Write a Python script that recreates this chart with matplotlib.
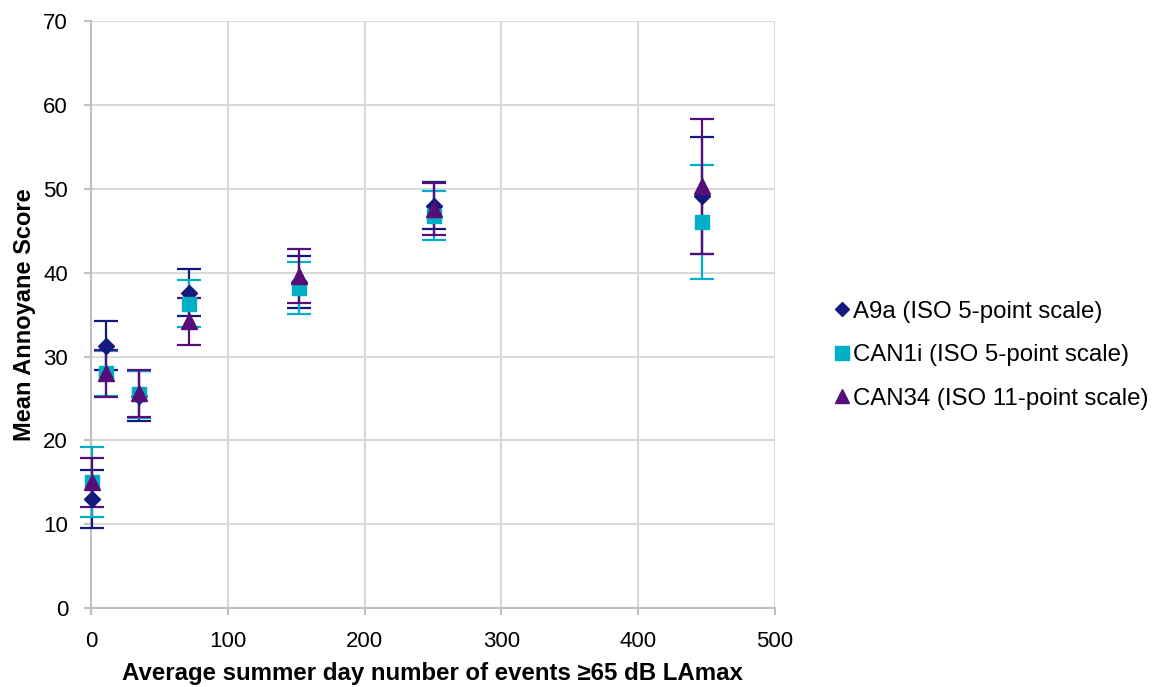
import matplotlib.pyplot as plt
from matplotlib.lines import Line2D

plt.rcParams['font.family'] = ['Liberation Sans', 'DejaVu Sans']

# data
x_events = [1, 11, 35, 72, 152, 251, 447]

a9a_mean = [13.0, 31.3, 25.3, 37.6, 38.9, 48.0, 49.2]
a9a_err = [3.5, 2.9, 3.0, 2.8, 3.1, 2.8, 7.0]

can1i_mean = [15.0, 28.0, 25.5, 36.3, 38.2, 46.8, 46.1]
can1i_err = [4.2, 2.7, 2.8, 2.8, 3.1, 2.9, 6.8]

can34_mean = [15.0, 28.0, 25.6, 34.2, 39.6, 47.6, 50.3]
can34_err = [2.9, 2.8, 2.8, 2.8, 3.2, 3.1, 8.1]

labels = ['A9a (ISO 5-point scale)', 'CAN1i (ISO 5-point scale)',
          'CAN34 (ISO 11-point scale)']

fig = plt.figure(figsize=(11.58, 6.87), dpi=100)
ax = fig.add_axes([0.0786, 0.115, 0.5905, 0.854])

series = [
    (a9a_mean, a9a_err, 'D', 8, '#141a7c'),
    (can1i_mean, can1i_err, 's', 10, '#00afc6'),
    (can34_mean, can34_err, '^', 11, '#560f78'),
]
handles = []
for (mean, err, marker, ms, color), label in zip(series, labels):
    cont = ax.errorbar(x_events, mean, yerr=err, fmt=marker, ms=ms, color=color,
                       ecolor=color, elinewidth=1.6, capsize=8.5, capthick=1.6,
                       zorder=3)
    for art in cont.get_children():
        art.set_clip_on(False)
    handles.append(Line2D([], [], marker=marker, linestyle='none', color=color,
                          ms=ms * 0.95, label=label))

ax.set_xlim(0, 500)
ax.set_ylim(0, 70)
ax.set_xticks(range(0, 501, 100))
ax.set_yticks(range(0, 71, 10))
ax.grid(True, color='#d9d9d9', linewidth=1.5, zorder=0)
ax.set_axisbelow(True)
for side in ['top', 'right']:
    ax.spines[side].set_visible(False)
for side in ['left', 'bottom']:
    ax.spines[side].set_color('#bfbfbf')
    ax.spines[side].set_linewidth(1.5)
ax.tick_params(colors='#bfbfbf', labelcolor='black', labelsize=16,
               length=5, width=1.5)
ax.tick_params(axis='y', pad=11.5)
ax.tick_params(axis='x', pad=11.5)

ax.set_xlabel('Average summer day number of events \u226565 dB LAmax',
              fontsize=17.3, fontweight='bold', labelpad=7)
ax.set_ylabel('Mean Annoyane Score', fontsize=17, fontweight='bold',
              labelpad=5.5)

ax.legend(handles=handles, loc='center left', bbox_to_anchor=(1.07, 0.431),
          frameon=False, fontsize=17.3, handletextpad=0.05, handlelength=0.8,
          labelspacing=0.9, borderaxespad=0)

fig.savefig('out.png', dpi=100)
